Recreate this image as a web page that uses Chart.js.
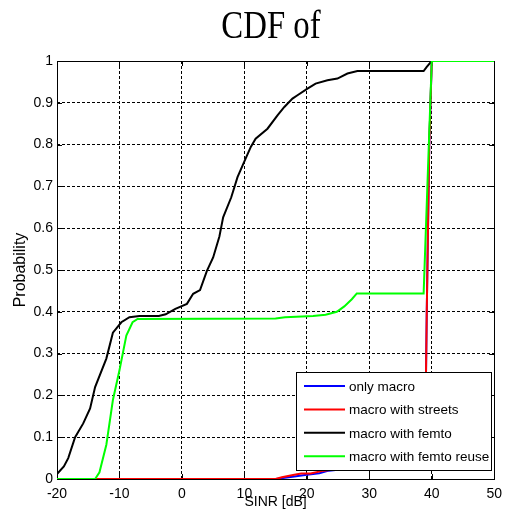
<!DOCTYPE html>
<html>
<head>
<meta charset="utf-8">
<script src="https://cdn.jsdelivr.net/npm/chart.js@4.4.0/dist/chart.umd.min.js"></script>
<style>
  html, body { margin: 0; padding: 0; background: #fff; }
  #wrap { width: 509px; height: 526px; }
</style>
</head>
<body>
<div id="wrap"><canvas id="cdf" width="509" height="526"></canvas></div>
<script>
// values (SINR in dB, probability)
const titleText = 'CDF of';
const xTickLabels = ['-20', '-10', '0', '10', '20', '30', '40', '50'];
const yTickLabels = ['0', '0.1', '0.2', '0.3', '0.4', '0.5', '0.6', '0.7', '0.8', '0.9', '1'];
const seriesNames = ['only macro', 'macro with streets', 'macro with femto', 'macro with femto reuse'];
const seriesColors = ['#0000ff', '#ff0000', '#000000', '#00ff00'];

const macroX = [-20, 15, 16, 18, 20, 22, 23.5, 25, 30, 35, 38.9, 39.2, 39.6, 40, 50];
const macroY = [0, 0, 0.002, 0.006, 0.01, 0.014, 0.02, 0.022, 0.026, 0.03, 0.032, 0.4, 0.8, 1, 1];

const streetsX = [-20, 15, 16, 18, 19.1, 20.6, 22.7, 25, 30, 35, 38.9, 39.2, 39.6, 40, 50];
const streetsY = [0, 0, 0.004, 0.01, 0.013, 0.013, 0.02, 0.024, 0.027, 0.03, 0.032, 0.4, 0.8, 1, 1];

const femtoX = [-20, -18.9, -18.2, -17.1, -15.8, -14.7, -13.9, -12.1, -11.05, -9.7, -8.4, -6.8, -3.7, -2.6, -1.05,
    0.8, 1.8, 2.9, 4.0, 5.0, 6.0, 6.6, 7.9, 8.9, 10.3, 11.05, 11.8, 13.7, 15.3, 16.4, 17.7, 18.5, 20.1, 21.4,
    23.3, 24.9, 26.5, 28.1, 38.7, 39.2, 40, 50];
const femtoY = [0.012, 0.03, 0.05, 0.10, 0.133, 0.169, 0.22, 0.288, 0.35, 0.375, 0.387, 0.39, 0.39, 0.394, 0.407,
    0.419, 0.443, 0.452, 0.498, 0.53, 0.58, 0.626, 0.674, 0.722, 0.77, 0.795, 0.814, 0.838, 0.87, 0.89, 0.91, 0.918, 0.934, 0.946,
    0.954, 0.958, 0.97, 0.976, 0.976, 0.986, 1, 1];

const reuseX = [-20, -13.9, -13.2, -12.1, -11.05, -10, -8.9, -7.9, -7.1, 15, 16.5, 21, 23, 24.8, 26, 27.2, 28, 38.7, 40, 50];
const reuseY = [0, 0, 0.016, 0.082, 0.189, 0.26, 0.343, 0.375, 0.383, 0.384, 0.387, 0.39, 0.393, 0.4, 0.413, 0.43, 0.444, 0.444, 1, 1];

const sansFamily = '"Liberation Sans", Arial, Helvetica, sans-serif';

function toPoints(xs, ys) {
    return xs.map((x, i) => ({ x, y: ys[i] }));
}

const seriesData = [
    toPoints(macroX, macroY),
    toPoints(streetsX, streetsY),
    toPoints(femtoX, femtoY),
    toPoints(reuseX, reuseY),
];

// MATLAB-like box, inward ticks, narrow serif title and boxed legend
const matlabLook = {
    id: 'matlabLook',
    beforeDatasetsDraw(chart) {
        const { ctx, chartArea: a, scales } = chart;
        ctx.save();
        ctx.strokeStyle = '#000';
        ctx.lineWidth = 1;
        ctx.beginPath();
        scales.x.ticks.forEach((t) => {
            const px = Math.round(scales.x.getPixelForValue(t.value)) + 0.5;
            ctx.moveTo(px, a.bottom);
            ctx.lineTo(px, a.bottom - 5);
            ctx.moveTo(px, a.top);
            ctx.lineTo(px, a.top + 5);
        });
        scales.y.ticks.forEach((t) => {
            const py = Math.round(scales.y.getPixelForValue(t.value)) + 0.5;
            ctx.moveTo(a.left, py);
            ctx.lineTo(a.left + 5, py);
            ctx.moveTo(a.right, py);
            ctx.lineTo(a.right - 5, py);
        });
        ctx.stroke();
        ctx.strokeRect(Math.round(a.left) + 0.5, Math.round(a.top) + 0.5,
            Math.round(a.right - a.left), Math.round(a.bottom - a.top));
        ctx.restore();
    },
    afterDraw(chart) {
        const { ctx } = chart;
        ctx.save();

        // title, squeezed like the original
        ctx.fillStyle = '#000';
        ctx.translate(271, 38);
        ctx.scale(0.8, 1);
        ctx.font = '41px "Liberation Serif", "Times New Roman", serif';
        ctx.textAlign = 'center';
        ctx.textBaseline = 'alphabetic';
        ctx.fillText(titleText, 0, 0);
        ctx.setTransform(1, 0, 0, 1, 0, 0);

        // legend
        const box = { left: 296.5, top: 372.5, width: 195, height: 98 };
        ctx.fillStyle = '#fff';
        ctx.fillRect(box.left, box.top, box.width, box.height);
        ctx.strokeStyle = '#000';
        ctx.lineWidth = 1;
        ctx.strokeRect(box.left, box.top, box.width, box.height);
        ctx.font = '13.5px ' + sansFamily;
        ctx.textAlign = 'left';
        ctx.textBaseline = 'middle';
        seriesNames.forEach((name, i) => {
            const y = 386 + i * 23.4;
            ctx.strokeStyle = seriesColors[i];
            ctx.lineWidth = 2;
            ctx.beginPath();
            ctx.moveTo(304, y);
            ctx.lineTo(345, y);
            ctx.stroke();
            ctx.fillStyle = '#000';
            ctx.fillText(name, 349, y + 1);
        });
        ctx.restore();
    },
};

const drawOrder = [4, 3, 2, 1];

new Chart(document.getElementById('cdf'), {
    type: 'line',
    data: {
        datasets: seriesData.map((points, i) => ({
            label: seriesNames[i],
            data: points,
            borderColor: seriesColors[i],
            backgroundColor: seriesColors[i],
            borderWidth: 2,
            pointRadius: 0,
            tension: 0,
            fill: false,
            order: drawOrder[i],
        })),
    },
    options: {
        responsive: false,
        animation: false,
        events: [],
        layout: { padding: { top: 61, right: 10, left: 0, bottom: 0 } },
        plugins: {
            legend: { display: false },
            title: { display: false },
            tooltip: { enabled: false },
        },
        scales: {
            x: {
                type: 'linear',
                min: -20,
                max: 50,
                afterBuildTicks(scale) {
                    scale.ticks = xTickLabels.map((l) => ({ value: Number(l) }));
                },
                afterFit(scale) { scale.height = 47; },
                ticks: {
                    color: '#000',
                    font: { family: sansFamily, size: 14 },
                    padding: 7,
                    maxRotation: 0,
                    autoSkip: false,
                    callback: (v, i) => xTickLabels[i],
                },
                grid: { color: '#000', lineWidth: 1, drawTicks: false },
                border: { display: false, dash: [3, 2] },
                title: {
                    display: true,
                    text: 'SINR [dB]',
                    color: '#000',
                    font: { family: sansFamily, size: 14 },
                    padding: { top: 0, bottom: 15 },
                },
            },
            y: {
                type: 'linear',
                min: 0,
                max: 1,
                afterBuildTicks(scale) {
                    scale.ticks = yTickLabels.map((l) => ({ value: Number(l) }));
                },
                afterFit(scale) { scale.width = 57; },
                ticks: {
                    color: '#000',
                    font: { family: sansFamily, size: 14 },
                    padding: 4,
                    autoSkip: false,
                    callback: (v, i) => yTickLabels[i],
                },
                grid: { color: '#000', lineWidth: 1, drawTicks: false },
                border: { display: false, dash: [3, 2] },
                title: {
                    display: true,
                    text: 'Probability',
                    color: '#000',
                    font: { family: sansFamily, size: 16 },
                    padding: { top: 11, bottom: 0 },
                },
            },
        },
    },
    plugins: [matlabLook],
});
</script>
</body>
</html>
